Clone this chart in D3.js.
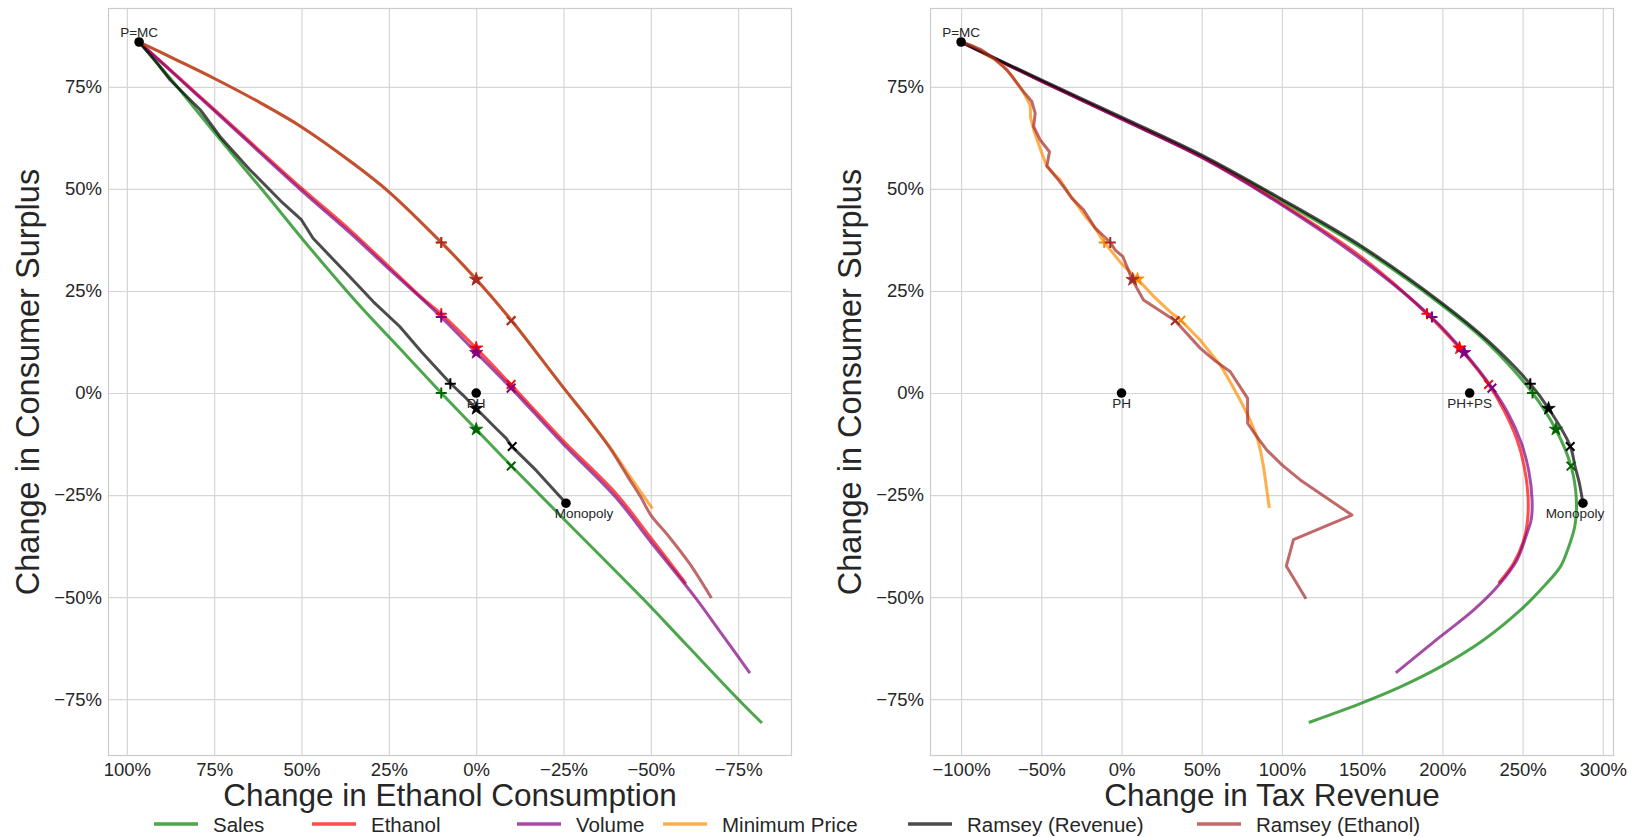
<!DOCTYPE html>
<html><head><meta charset="utf-8">
<script src="https://cdn.jsdelivr.net/npm/d3@7"></script>
<style>
body{margin:0;background:#fff}
text{font-family:"Liberation Sans",Arial,sans-serif;fill:#262626}
</style>
</head><body>
<svg id="chart" width="1641" height="837"></svg>
<script>
// ---------------- DATA (percent changes) ----------------
// Left panel: [ethanol consumption change, consumer surplus change]
const salesEth = [[96.5,86],[87.6,77.1],[74.8,63.7],[60,48.5],[50,38],[34.8,22.8],[20,9.2],[10,0],[0,-8.9],[-10,-17.8],[-25,-30.8],[-47.6,-50.3],[-60,-61.5],[-75.2,-75.2],[-81.5,-80.6]];
const ethanolEth = [[96.5,86],[85,77.2],[75,69.5],[50,50.2],[36.2,40],[25,31],[14.8,22.8],[10,19.4],[0,11],[-10,2],[-24.7,-11.5],[-40,-24.6],[-50,-35.5],[-59.8,-46.4]];
const volumeEth = [[96.5,86],[85,77],[75,69.2],[50,49.6],[36.2,39.3],[25,30.4],[10,18.6],[0,9.9],[-10,1.2],[-24.7,-12.3],[-40,-25.6],[-50,-36.5],[-62.9,-50.3],[-70,-58.7],[-78.1,-68.3]];
const minPriceEth = [[96.5,86],[86,81.7],[74.8,77],[62,71.2],[50,65.2],[35.3,56.3],[25,49.3],[10,36.9],[0,27.9],[-10,17.9],[-24.8,1.5],[-32.5,-6.8],[-38.5,-13.5],[-44.3,-20.8],[-50.2,-28]];
const ramseyRevEth = [[96.5,86],[92,81.5],[87.6,76.7],[79,69.4],[73.3,62.8],[64.8,54.7],[55.3,46.5],[50,42.4],[46.7,37.9],[35.3,27.7],[29.5,22.4],[21.9,16.3],[15.7,10.1],[7.4,2.4],[3.8,-0.5],[0,-3.8],[-5.7,-8.7],[-8.6,-11.1],[-10.3,-13.2],[-17.1,-18.9],[-25.7,-27]];
const ramseyEthEth = [[96.5,86],[86,81.7],[74.8,77],[62,71.2],[50,65.2],[35.3,56.3],[25,49.3],[10,36.9],[0,27.9],[-10,17.9],[-24.8,1.5],[-32.5,-6.8],[-38.3,-13.5],[-43.6,-20.8],[-47.1,-25.5],[-50,-29.9],[-55.2,-35.2],[-61,-41.7],[-67.1,-49.9]];

// Right panel: [tax revenue change, consumer surplus change]
const salesRev = [[-100,86],[-50,76.4],[0,67.2],[50,57.9],[98.9,47.3],[149.9,35.4],[199.8,21.5],[227.8,12.4],[256.2,0],[270.8,-9],[280.2,-17.9],[283.5,-26],[282.6,-32.5],[278,-38.5],[273.5,-42.6],[261,-48.3],[248.6,-53.2],[225.7,-60.5],[198.7,-67.1],[173.8,-72],[148.8,-76.1],[117.6,-80.6]];
const ethanolRev = [[-100,86],[-50,76.4],[0,67.2],[50,57.8],[98.9,46.6],[149.9,33.2],[190.4,19.4],[210.7,11],[228.8,2.1],[238.2,-4.1],[246.5,-11.4],[251,-18],[253.4,-25.3],[253,-31.5],[250.5,-36.3],[244.4,-41.7],[235.6,-46.3]];
const volumeRev = [[-100,86],[-50,76.4],[0,67.1],[50,57.7],[98.9,46.3],[149.9,32.6],[193.5,18.5],[213.6,10],[230.9,1.3],[241,-5],[249,-12],[253.8,-19],[255.9,-26],[255.4,-31],[252.7,-34.4],[246.5,-40.9],[235,-47.1],[219.4,-53.2],[198.7,-59.7],[171.7,-68.3]];
const minPriceRev = [[-100,86],[-92.5,85],[-86.3,83.4],[-79.5,81.8],[-73.5,80],[-68.5,77.8],[-65.2,75.9],[-60.5,73.2],[-56.9,70.5],[-56.7,67.5],[-54.4,64],[-49.6,58.7],[-46.5,55.5],[-42,53.6],[-38.2,52.2],[-33,49],[-29.9,47.3],[-22,43],[-16.4,40.4],[-10.8,36.9],[0,31.7],[10,27.9],[20,23.7],[30,20],[37,17.8],[49,13],[61.5,6.9],[68.5,2.2],[75,-2.5],[80,-6.5],[84.4,-10.7],[86.7,-14.3],[88.5,-18],[90.3,-23],[92,-27.8]];
const ramseyRevRev = [[-100,86],[-50,76.7],[0,67.6],[50,58.3],[98.9,47.7],[149.9,35.9],[199.8,22],[227.8,13],[254.8,2.2],[266.2,-3.8],[279.7,-13],[282.7,-18],[285.4,-22.1],[287.6,-27]];
const ramseyEthRev = [[-100,86],[-94,85.2],[-87.9,84.2],[-79.8,82.1],[-71.5,79.2],[-65.2,76],[-60,73.3],[-55.9,71.4],[-53.8,68.5],[-54.8,65.3],[-50.7,62],[-44.9,59.1],[-46.5,55.6],[-41,53],[-36.2,50.6],[-30.9,47.7],[-23.7,44.9],[-16.4,40.4],[-7,36.9],[-3.9,35],[0.9,33.4],[6.5,27.9],[13.7,22.8],[33.5,17.7],[49,11],[58,8],[67.8,5.2],[78.6,-1.3],[78.6,-7.4],[84,-10.5],[90.6,-14],[100,-17.6],[111.4,-21.3],[143.6,-29.9],[107.2,-35.9],[102.7,-42.4],[114.5,-50.1]];

// Markers '+', '*', 'x': [ethanol change, revenue change, consumer surplus change]
const salesMarks = [[10,256.2,0],[0,270.8,-8.9],[-10,280.2,-17.9]];
const ethanolMarks = [[10,190.4,19.4],[0,210.7,11],[-10,228.8,2.1]];
const volumeMarks = [[10,193.5,18.6],[0,213.6,9.9],[-10,230.9,1.2]];
const minPriceMarks = [[10,-10.8,36.9],[0,10,27.9],[-10,37,17.8]];
const ramseyRevMarks = [[7.4,254.8,2.3],[0,266.2,-3.8],[-10.3,279.7,-13.1]];
const ramseyEthMarks = [[10,-7,36.9],[0,6.9,27.8],[-10,33.5,17.7]];
const markerShapes = ["plus","star","x"];

// Labelled points
const leftPoints = [["P=MC",96.5,86],["PH",0,0],["Monopoly",-25.7,-27]];
const rightPoints = [["P=MC",-100,86],["PH",0,0],["PH+PS",217,0],["Monopoly",287.6,-27]];

// Series names and ticks
const seriesNames = ["Sales","Ethanol","Volume","Minimum Price","Ramsey (Revenue)","Ramsey (Ethanol)"];
const leftXTicks = [100,75,50,25,0,-25,-50,-75];
const rightXTicks = [-100,-50,0,50,100,150,200,250,300];
const yTicks = [75,50,25,0,-25,-50,-75];

// ---------------- STYLE ----------------
const lineColors = ["#008000","#ff0000","#800080","#ff8c00","#000000","#a52a2a"];
const markColors = ["#006400","#ff0000","#800080","#ff8c00","#000000","#a52a2a"];
const ethData = [salesEth,ethanolEth,volumeEth,minPriceEth,ramseyRevEth,ramseyEthEth];
const revData = [salesRev,ethanolRev,volumeRev,minPriceRev,ramseyRevRev,ramseyEthRev];
const marksData = [salesMarks,ethanolMarks,volumeMarks,minPriceMarks,ramseyRevMarks,ramseyEthMarks];
const smoothLeft = [true,true,true,true,false,true];
const smoothRight = [true,true,true,false,true,false];

const svg = d3.select("#chart");
const W = 684, H = 748, TOP = 8;
const pad = (ext) => { const r = ext[1]-ext[0]; return [ext[0]-0.05*r, ext[1]+0.05*r]; };

const allCS = ethData.flat().map(d=>d[1]).concat(revData.flat().map(d=>d[1]));
const yDom = pad(d3.extent(allCS));
const y = d3.scaleLinear().domain(yDom).range([TOP+H, TOP]);
const fmt = d => d3.format("d")(d) + "%";

function starPath(r){
  const pts=[]; const ri=r*0.38;
  for(let i=0;i<10;i++){const a=-Math.PI/2+i*Math.PI/5; const rr=i%2?ri:r; pts.push([rr*Math.cos(a),rr*Math.sin(a)]);}
  return "M"+pts.map(p=>p.join(",")).join("L")+"Z";
}

function panel(left, data, xIdx, xTicks, reversed, points, xlabel, ylabelX, labelOffsets, smooth){
  const xs = data.flat().map(d=>d[0]);
  let dom = pad(d3.extent(xs));
  if(reversed) dom = [dom[1],dom[0]];
  const x = d3.scaleLinear().domain(dom).range([left, left+W]);
  const g = svg.append("g");
  g.append("rect").attr("x",left).attr("y",TOP).attr("width",W).attr("height",H).attr("fill","#fff");
  // grid
  g.append("g").attr("transform",`translate(0,${TOP+H})`)
    .call(d3.axisBottom(x).tickValues(xTicks).tickSize(-H).tickFormat(""))
    .call(a=>{a.select(".domain").remove(); a.selectAll("line").attr("stroke","#d6d6d6").attr("stroke-width",1.2);});
  g.append("g").attr("transform",`translate(${left},0)`)
    .call(d3.axisLeft(y).tickValues(yTicks).tickSize(-W).tickFormat(""))
    .call(a=>{a.select(".domain").remove(); a.selectAll("line").attr("stroke","#d6d6d6").attr("stroke-width",1.2);});
  // tick labels
  g.append("g").attr("transform",`translate(0,${TOP+H})`)
    .call(d3.axisBottom(x).tickValues(xTicks).tickSize(0).tickPadding(7).tickFormat(fmt))
    .call(a=>{a.select(".domain").remove(); a.selectAll("text").attr("font-size",18.5).attr("fill","#262626").attr("font-family",null);});
  g.append("g").attr("transform",`translate(${left},0)`)
    .call(d3.axisLeft(y).tickValues(yTicks).tickSize(0).tickPadding(6).tickFormat(fmt))
    .call(a=>{a.select(".domain").remove(); a.selectAll("text").attr("font-size",18.5).attr("fill","#262626").attr("font-family",null);});
  // frame
  g.append("rect").attr("x",left+0.5).attr("y",TOP+0.5).attr("width",W-1).attr("height",H-1)
    .attr("fill","none").attr("stroke","#cccccc").attr("stroke-width",1.2);
  // lines
  data.forEach((s,i)=>{
    const line = d3.line().x(d=>x(d[0])).y(d=>y(d[1]))
      .curve(smooth[i] ? d3.curveCatmullRom.alpha(0.5) : d3.curveLinear);
    g.append("path").attr("d",line(s)).attr("fill","none").attr("stroke",lineColors[i])
      .attr("stroke-opacity",0.7).attr("stroke-width",3).attr("stroke-linejoin","round").attr("stroke-linecap","square");
  });
  // markers
  marksData.forEach((ms,i)=>{
    ms.forEach((m,k)=>{
      const px = x(m[xIdx]), py = y(m[2]);
      const shape = markerShapes[k];
      const c = markColors[i];
      if(shape==="plus"){
        g.append("path").attr("d",`M${px-5.5},${py}H${px+5.5}M${px},${py-5.5}V${py+5.5}`).attr("stroke",c).attr("stroke-width",2);
      } else if(shape==="x"){
        g.append("path").attr("d",`M${px-4.3},${py-4.3}L${px+4.3},${py+4.3}M${px-4.3},${py+4.3}L${px+4.3},${py-4.3}`).attr("stroke",c).attr("stroke-width",2);
      } else {
        g.append("path").attr("d",starPath(7)).attr("transform",`translate(${px},${py})`).attr("fill",c).attr("stroke",c).attr("stroke-width",0.8);
      }
    });
  });
  // labelled points
  points.forEach((p,i)=>{
    const px = x(p[1]), py = y(p[2]);
    g.append("circle").attr("cx",px).attr("cy",py).attr("r",4.8).attr("fill","#000");
    const above = p[0]==="P=MC";
    g.append("text").attr("x",px+labelOffsets[i]).attr("y",above?py-5:py+15)
      .attr("text-anchor","middle").attr("font-size",13.5).attr("fill","#222").text(p[0]);
  });
  // axis labels
  svg.append("text").attr("x",left+W/2).attr("y",806).attr("text-anchor","middle").attr("font-size",31.5).text(xlabel);
  svg.append("text").attr("transform",`translate(${ylabelX},${TOP+H/2}) rotate(-90)`).attr("dy","0.35em")
    .attr("text-anchor","middle").attr("font-size",32.5).text("Change in Consumer Surplus");
}

panel(108, ethData, 0, leftXTicks, true, leftPoints, "Change in Ethanol Consumption", 28, [0,0,18], smoothLeft);
panel(930, revData, 1, rightXTicks, false, rightPoints, "Change in Tax Revenue", 850, [0,0,0,-8], smoothRight);

// legend
const legendX = [154,312,517,663,908,1197];
const lg = svg.append("g");
seriesNames.forEach((n,i)=>{
  lg.append("line").attr("x1",legendX[i]).attr("x2",legendX[i]+44).attr("y1",824).attr("y2",824)
    .attr("stroke",lineColors[i]).attr("stroke-opacity",0.7).attr("stroke-width",3.5);
  lg.append("text").attr("x",legendX[i]+59).attr("y",832).attr("font-size",20.5).text(n);
});
</script>
</body></html>
